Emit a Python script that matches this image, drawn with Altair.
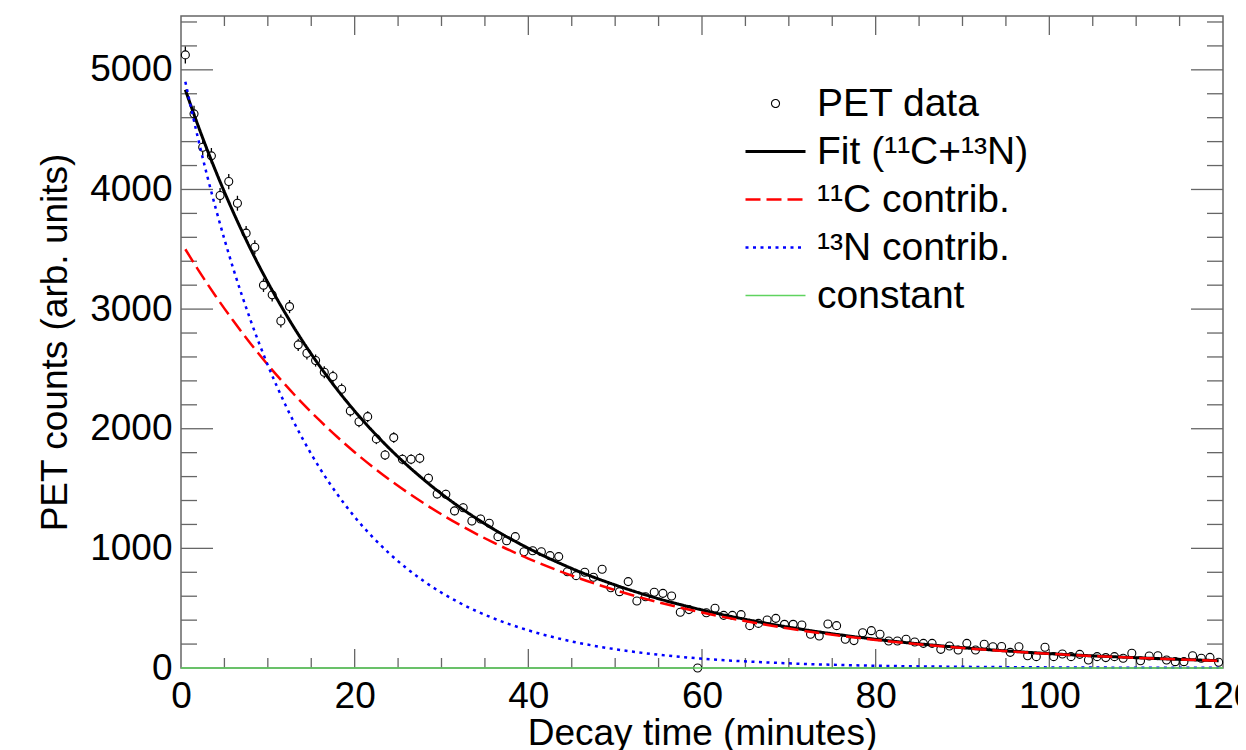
import altair as alt
import pandas as pd

FONT = "Liberation Sans"

# ---------------- PET data (1-minute bins) ----------------
pet_time = [
    0.5, 1.5, 2.5, 3.5, 4.5, 5.5, 6.5, 7.5, 8.5, 9.5,
    10.5, 11.5, 12.5, 13.5, 14.5, 15.5, 16.5, 17.5, 18.5, 19.5,
    20.5, 21.5, 22.5, 23.5, 24.5, 25.5, 26.5, 27.5, 28.5, 29.5,
    30.5, 31.5, 32.5, 33.5, 34.5, 35.5, 36.5, 37.5, 38.5, 39.5,
    40.5, 41.5, 42.5, 43.5, 44.5, 45.5, 46.5, 47.5, 48.5, 49.5,
    50.5, 51.5, 52.5, 53.5, 54.5, 55.5, 56.5, 57.5, 58.5, 59.5,
    60.5, 61.5, 62.5, 63.5, 64.5, 65.5, 66.5, 67.5, 68.5, 69.5,
    70.5, 71.5, 72.5, 73.5, 74.5, 75.5, 76.5, 77.5, 78.5, 79.5,
    80.5, 81.5, 82.5, 83.5, 84.5, 85.5, 86.5, 87.5, 88.5, 89.5,
    90.5, 91.5, 92.5, 93.5, 94.5, 95.5, 96.5, 97.5, 98.5, 99.5,
    100.5, 101.5, 102.5, 103.5, 104.5, 105.5, 106.5, 107.5, 108.5, 109.5,
    110.5, 111.5, 112.5, 113.5, 114.5, 115.5, 116.5, 117.5, 118.5, 119.5,
]
pet_counts = [
    5125, 4632, 4353, 4281, 3949, 4066, 3885, 3635, 3517, 3200,
    3119, 2901, 3021, 2701, 2631, 2570, 2472, 2436, 2330, 2149,
    2058, 2101, 1915, 1781, 1926, 1745, 1745, 1753, 1586, 1455,
    1452, 1313, 1340, 1229, 1246, 1210, 1098, 1064, 1098, 972,
    980, 972, 939, 931, 805, 772, 800, 758, 825, 671,
    638, 722, 560, 596, 633, 624, 602, 466, 488, 0,
    462, 499, 440, 440, 446, 354, 373, 401, 415, 365,
    365, 360, 282, 268, 368, 354, 240, 229, 295, 312,
    282, 226, 226, 240, 217, 206, 206, 156, 184, 150,
    206, 150, 198, 178, 180, 131, 178, 103, 95, 173,
    95, 117, 95, 114, 67, 95, 87, 95, 81, 123,
    61, 100, 103, 67, 53, 53, 103, 81, 89, 48,
]

# ---------------- fitted curves ----------------
fit_time = [0.5, 2, 4, 6, 8, 10, 12, 14, 16, 18, 20, 24, 28, 32, 36, 40,
            45, 50, 55, 60, 70, 80, 90, 100, 110, 119.5]
fit_total = [4833, 4527, 4153, 3813, 3504, 3223, 2967, 2733, 2521, 2326, 2148,
             1835, 1572, 1349, 1161, 1001, 832, 694, 579, 485, 341, 240, 170,
             120, 86, 61]
fit_c11 = [3500, 3326, 3108, 2904, 2713, 2534, 2368, 2212, 2067, 1931, 1804,
           1575, 1375, 1200, 1048, 915, 772, 651, 549, 464, 330, 235, 167,
           119, 85, 61]
fit_n13 = [4900, 4415, 3842, 3343, 2909, 2531, 2203, 1917, 1668, 1452, 1263,
           957, 724, 548, 415, 315, 222, 157, 111, 78, 39, 19, 10, 5, 2.5, 1.2]
const_time = [0, 120]
const_value = [0, 0]

LINE_SYMBOL = "M-2.5,0H2.5"
series_names = ["PET data", "Fit (¹¹C+¹³N)", "¹¹C contrib.", "¹³N contrib.", "constant"]
series_colors = ["#000000", "#000000", "#ff0000", "#0000ff", "#5fd35f"]
series_shapes = ["circle", LINE_SYMBOL, LINE_SYMBOL, LINE_SYMBOL, LINE_SYMBOL]
series_sizes = [64, 576, 576, 576, 576]
series_dash = [[1, 0], [1, 0], [15, 6], [3, 4.5], [1, 0]]
series_width = [1.1, 3, 2.5, 2.5, 1.5]

x_major = [20, 40, 60, 80, 100]
x_minor = [5, 10, 15, 25, 30, 35, 45, 50, 55, 65, 70, 75, 85, 90, 95, 105, 110, 115]
y_major = [1000, 2000, 3000, 4000, 5000]
y_minor = [200, 400, 600, 800, 1200, 1400, 1600, 1800, 2200, 2400, 2600, 2800,
           3200, 3400, 3600, 3800, 4200, 4400, 4600, 4800, 5200, 5400]
x_label_values = [0, 20, 40, 60, 80, 100, 120]
y_label_values = [0, 1000, 2000, 3000, 4000, 5000]

W, H = 1042, 652
FRAME = "#666666"

# ---------------- tables ----------------
pts = pd.DataFrame({"t": pet_time, "v": pet_counts, "series": series_names[0]})
curves = pd.concat([
    pd.DataFrame({"t": fit_time, "v": fit_total, "series": series_names[1]}),
    pd.DataFrame({"t": fit_time, "v": fit_c11, "series": series_names[2]}),
    pd.DataFrame({"t": fit_time, "v": fit_n13, "series": series_names[3]}),
    pd.DataFrame({"t": const_time, "v": const_value, "series": series_names[4]}),
], ignore_index=True)

xs = alt.Scale(domain=[0, 120], nice=False, zero=False)
ys = alt.Scale(domain=[0, 5450], nice=False, zero=False)

legend = alt.Legend(
    title=None, orient="none", legendX=575, legendY=68, padding=0,
    labelFont=FONT, labelFontSize=39, labelColor="black", labelOffset=22,
    labelLimit=600, rowPadding=8, labelBaseline="middle",
)
sdom = series_names
color_enc = alt.Color("series:N", scale=alt.Scale(domain=sdom, range=series_colors), legend=legend)
shape_enc = alt.Shape("series:N", scale=alt.Scale(type="ordinal", domain=sdom, range=series_shapes), legend=legend)
size_enc = alt.Size("series:N", scale=alt.Scale(type="ordinal", domain=sdom, range=series_sizes), legend=legend)
dash_enc = alt.StrokeDash("series:N", scale=alt.Scale(type="ordinal", domain=sdom, range=series_dash), legend=legend)
width_enc = alt.StrokeWidth("series:N", scale=alt.Scale(type="ordinal", domain=sdom, range=series_width), legend=legend)

x_axis = alt.Axis(
    values=x_label_values, title="Decay time (minutes)", ticks=False, tickSize=0,
    domain=False, grid=False, labelFont=FONT, labelFontSize=37, labelColor="black",
    labelPadding=10, labelFlush=False, labelOverlap=False, labelBaseline="top",
    titleFont=FONT, titleFontSize=37, titleFontWeight="normal", titleColor="black",
    titleY=76, titleBaseline="alphabetic",
)
y_axis = alt.Axis(
    values=y_label_values, format="d", title="PET counts (arb. units)", ticks=False,
    tickSize=0, domain=False, grid=False, labelFont=FONT, labelFontSize=37,
    labelColor="black", labelPadding=9, labelFlush=False, labelOverlap=False,
    titleFont=FONT, titleFontSize=37, titleFontWeight="normal", titleColor="black",
    titleX=-115, titleY=H / 2, titleAngle=270, titleAlign="center",
    titleBaseline="alphabetic",
)

# error bars (Poisson) drawn first
err = alt.Chart(pts).transform_calculate(
    lo="datum.v - sqrt(datum.v)", hi="datum.v + sqrt(datum.v)"
).mark_rule(color="black", strokeWidth=1.3).encode(
    x=alt.X("t:Q", scale=xs, axis=x_axis),
    y=alt.Y("lo:Q", scale=ys, axis=y_axis),
    y2="hi:Q",
)

pts_fill = alt.Chart(pts).mark_point(filled=True, color="white", opacity=1, size=64).encode(
    x=alt.X("t:Q", scale=xs), y=alt.Y("v:Q", scale=ys),
)

pts_ring = alt.Chart(pts).mark_point(filled=False, opacity=1, strokeWidth=1.1).encode(
    x=alt.X("t:Q", scale=xs), y=alt.Y("v:Q", scale=ys),
    color=color_enc, shape=shape_enc, size=size_enc,
)

def curve_layer(name):
    return alt.Chart(curves).transform_filter(
        alt.datum.series == name
    ).mark_line(interpolate="monotone").encode(
        x=alt.X("t:Q", scale=xs), y=alt.Y("v:Q", scale=ys),
        color=color_enc, strokeDash=dash_enc, strokeWidth=width_enc,
    )

def tick_layer(vals, axis, side, length):
    df = pd.DataFrame({"p": vals})
    base = alt.Chart(df).mark_rule(color=FRAME, strokeWidth=1.3)
    if axis == "x":
        if side == "bottom":
            return base.encode(x=alt.X("p:Q", scale=xs), y=alt.value(H), y2=alt.value(H - length))
        return base.encode(x=alt.X("p:Q", scale=xs), y=alt.value(0), y2=alt.value(length))
    if side == "left":
        return base.encode(y=alt.Y("p:Q", scale=ys), x=alt.value(0), x2=alt.value(length))
    return base.encode(y=alt.Y("p:Q", scale=ys), x=alt.value(W), x2=alt.value(W - length))

ticks = [
    tick_layer(x_major, "x", "bottom", 19), tick_layer(x_minor, "x", "bottom", 10),
    tick_layer(x_major, "x", "top", 19), tick_layer(x_minor, "x", "top", 10),
    tick_layer(y_major, "y", "left", 32), tick_layer(y_minor, "y", "left", 16),
    tick_layer(y_major, "y", "right", 32), tick_layer(y_minor, "y", "right", 16),
]

chart = alt.layer(
    err, *ticks, pts_fill, pts_ring,
    curve_layer(series_names[1]), curve_layer(series_names[2]),
    curve_layer(series_names[3]), curve_layer(series_names[4]),
).properties(
    width=W, height=H,
    autosize=alt.AutoSizeParams(type="none"),
    padding={"left": 173, "top": 8, "right": 15, "bottom": 82},
    background="white",
).configure_view(
    stroke=FRAME, strokeWidth=1.5,
)

chart.save("out.html", embed_options={"renderer": "svg", "actions": False})
